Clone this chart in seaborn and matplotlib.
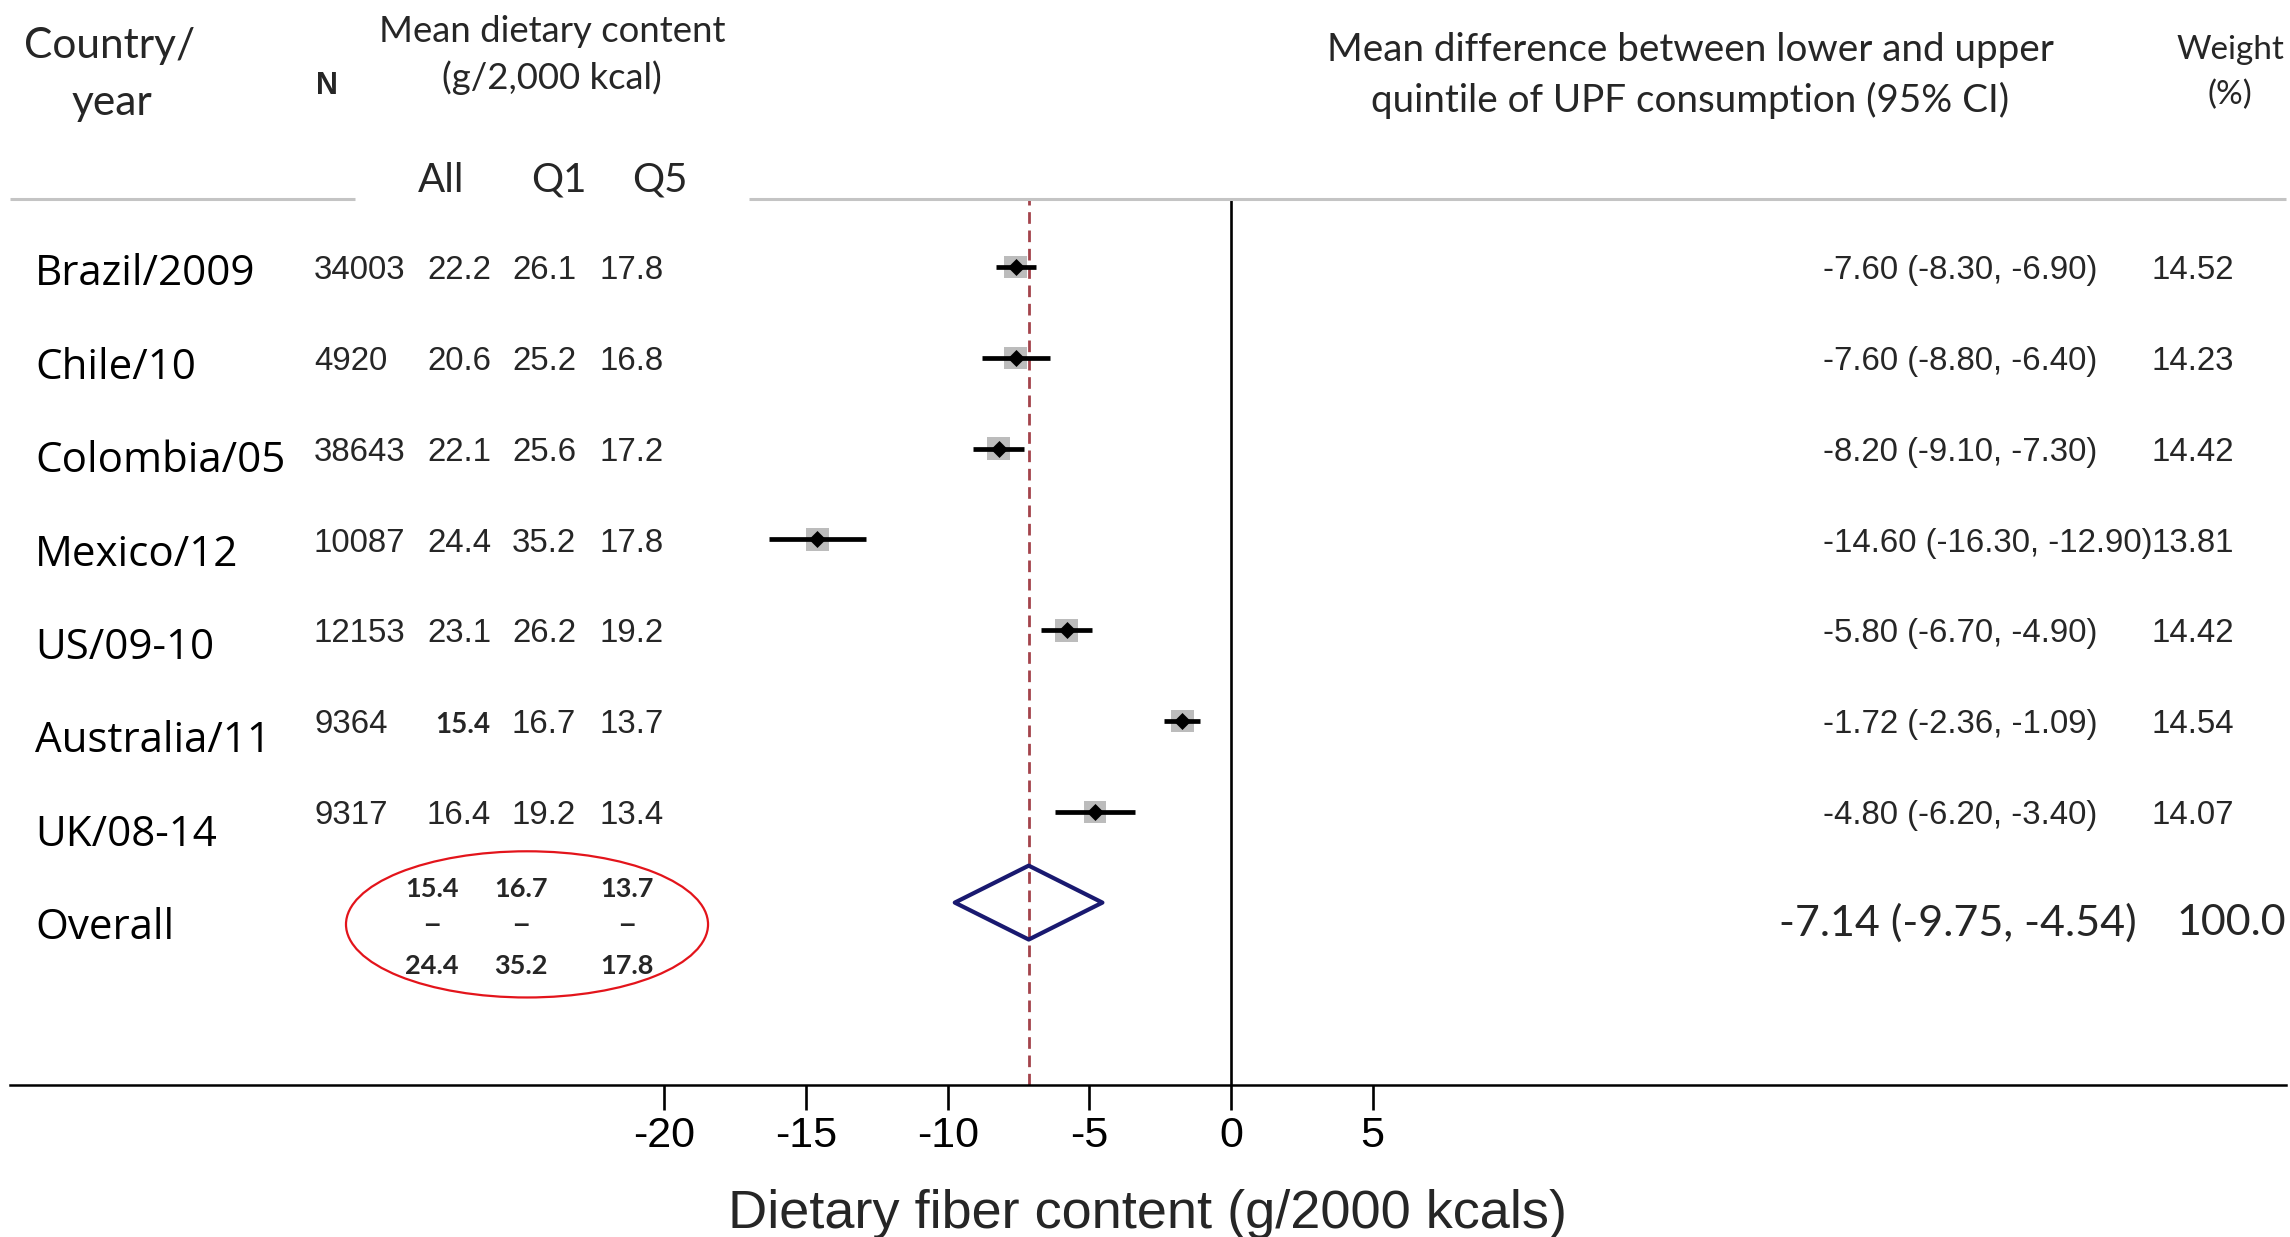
import matplotlib
matplotlib.use("Agg")
import numpy as np
import pandas as pd
import matplotlib.pyplot as plt
from matplotlib import transforms
from matplotlib.patches import Polygon, Ellipse
import seaborn as sns

# ---- study-level data -------------------------------------------------------
countries = ["Brazil/2009", "Chile/10", "Colombia/05", "Mexico/12",
             "US/09-10", "Australia/11", "UK/08-14"]
n_obs = [34003, 4920, 38643, 10087, 12153, 9364, 9317]
mean_all = [22.2, 20.6, 22.1, 24.4, 23.1, 15.4, 16.4]
mean_q1 = [26.1, 25.2, 25.6, 35.2, 26.2, 16.7, 19.2]
mean_q5 = [17.8, 16.8, 17.2, 17.8, 19.2, 13.7, 13.4]
estimate = [-7.60, -7.60, -8.20, -14.60, -5.80, -1.72, -4.80]
ci_low = [-8.30, -8.80, -9.10, -16.30, -6.70, -2.36, -6.20]
ci_high = [-6.90, -6.40, -7.30, -12.90, -4.90, -1.09, -3.40]
weight = [14.52, 14.23, 14.42, 13.81, 14.42, 14.54, 14.07]

# pooled estimate
overall_label = "Overall"
overall_est, overall_low, overall_high = -7.14, -9.75, -4.54
overall_weight = 100.0
range_low = [15.4, 16.7, 13.7]
range_high = [24.4, 35.2, 17.8]

xticks = [-20, -15, -10, -5, 0, 5]
xlabel = "Dietary fiber content (g/2000 kcals)"

df = pd.DataFrame({
    "country": countries, "n": n_obs, "all": mean_all, "q1": mean_q1,
    "q5": mean_q5, "est": estimate, "lo": ci_low, "hi": ci_high, "weight": weight,
})
df["row"] = np.arange(len(df))
overall_row = len(df)

# ---- styling ----------------------------------------------------------------
sns.set_style("white")
plt.rcParams["font.family"] = ["Liberation Sans", "DejaVu Sans"]
HEAD = ["Lato", "DejaVu Sans"]
LABEL = ["Open Sans", "DejaVu Sans"]
ARIAL = ["Liberation Sans", "DejaVu Sans"]

W, H = 2290, 1237
fig = plt.figure(figsize=(W / 100, H / 100), dpi=100)


def fx(p):
    return p / W


def fy(q):
    return 1 - q / H


ax = fig.add_axes([fx(10), fy(1085), fx(2286) - fx(10), fy(199) - fy(1085)])
ax.set_xlim(-43.10, 37.24)
ax.set_ylim(9.009, -0.749)

# study squares (area proportional to weight), CI bars, point markers
sns.scatterplot(data=df, x="est", y="row", size="weight", sizes=(0, 270),
                size_norm=(0, max(weight)), marker="s", color="#bcbcbc",
                linewidth=0, legend=False, ax=ax, zorder=2)
ax.hlines(df["row"], df["lo"], df["hi"], color="black", lw=3.4, zorder=3)
sns.scatterplot(data=df, x="est", y="row", marker="D", s=75, color="black",
                linewidth=0, legend=False, ax=ax, zorder=4)

# pooled diamond
half_h = 0.407
diamond = Polygon([(overall_low, overall_row), (overall_est, overall_row - half_h),
                   (overall_high, overall_row), (overall_est, overall_row + half_h)],
                  closed=True, fill=False, edgecolor="#191970", lw=3.0,
                  joinstyle="round", zorder=4)
ax.add_patch(diamond)

# reference lines
ax.axvline(0, color="black", lw=1.9, zorder=1)
ax.axvline(overall_est, color="#a3434b", lw=2.0, dashes=(4.2, 2.4), zorder=1)

# header rule with a gap under the column headings
ax.plot([0, 0.1515], [1, 1], transform=ax.transAxes, color="#c4c4c4", lw=2.2,
        clip_on=False, solid_capstyle="butt")
ax.plot([0.3248, 1], [1, 1], transform=ax.transAxes, color="#c4c4c4", lw=2.2,
        clip_on=False, solid_capstyle="butt")

# axis styling
for side in ["left", "right", "top"]:
    ax.spines[side].set_visible(False)
ax.spines["bottom"].set_color("black")
ax.spines["bottom"].set_linewidth(1.8)
ax.set_yticks([])
ax.set_ylabel("")
ax.set_xticks(xticks)
ax.set_xticklabels([str(t) for t in xticks], family=ARIAL)
ax.tick_params(axis="x", bottom=True, direction="out", length=18, width=1.9,
               pad=4, labelsize=31, colors="black")
ax.set_xlabel(xlabel, fontsize=39, family=ARIAL, labelpad=24)

# ---- text columns -----------------------------------------------------------
rows_tr = transforms.blended_transform_factory(fig.transFigure, ax.transData)
dy = 0.04  # small downward nudge of the row text

for i, name in enumerate(countries + [overall_label]):
    ax.text(fx(35), 0.08 + 1.029 * i, name, transform=rows_tr, ha="left",
            va="center", fontsize=30.3, family=LABEL, color="black")

for _, r in df.iterrows():
    y = r["row"] + dy
    ax.text(fx(314), y, f"{int(r['n'])}", transform=rows_tr, ha="left",
            va="center", fontsize=23.8, family=ARIAL)
    if r["country"].startswith("Australia"):
        ax.text(fx(463), y, f"{r['all']:.1f}", transform=rows_tr, ha="center",
                va="center", fontsize=20, family=HEAD, fontweight="bold")
    else:
        ax.text(fx(459), y, f"{r['all']:.1f}", transform=rows_tr, ha="center",
                va="center", fontsize=23.8, family=ARIAL)
    ax.text(fx(544), y, f"{r['q1']:.1f}", transform=rows_tr, ha="center",
            va="center", fontsize=23.8, family=ARIAL)
    ax.text(fx(632), y, f"{r['q5']:.1f}", transform=rows_tr, ha="center",
            va="center", fontsize=23.8, family=ARIAL)
    ax.text(fx(1823), y, f"{r['est']:.2f} ({r['lo']:.2f}, {r['hi']:.2f})",
            transform=rows_tr, ha="left", va="center", fontsize=23.8, family=ARIAL)
    ax.text(fx(2151), y, f"{r['weight']:.2f}", transform=rows_tr, ha="left",
            va="center", fontsize=23.8, family=ARIAL)

ax.text(fx(1779), overall_row + 0.22,
        f"{overall_est:.2f} ({overall_low:.2f}, {overall_high:.2f})",
        transform=rows_tr, ha="left", va="center", fontsize=31, family=HEAD)
ax.text(fx(2176), overall_row + 0.22, f"{overall_weight:.1f}", transform=rows_tr,
        ha="left", va="center", fontsize=31, family=HEAD)

# ranges of the means across studies, circled
for xc, lo, hi in zip([432, 521, 627], range_low, range_high):
    ax.text(fx(xc), overall_row - 0.15, f"{lo:.1f}", transform=rows_tr, ha="center",
            va="center", fontsize=19.5, family=HEAD, fontweight="bold")
    ax.text(fx(xc), overall_row + 0.25, "\u2013", transform=rows_tr, ha="center",
            va="center", fontsize=20, family=ARIAL, fontweight="bold")
    ax.text(fx(xc), overall_row + 0.70, f"{hi:.1f}", transform=rows_tr, ha="center",
            va="center", fontsize=19.5, family=HEAD, fontweight="bold")
ax.add_patch(Ellipse((-24.85, 7.24), 12.78, 1.61, fill=False, edgecolor="#e3141b",
                     lw=1.6, clip_on=False, zorder=5))

# ---- column headings ----------------------------------------------------------
def head(x, y, s, size, family=HEAD, **kw):
    fig.text(fx(x), fy(y), s, ha="center", va="center", fontsize=size,
             family=family, **kw)


head(110, 46, "Country/", 30.5)
head(112, 103, "year", 30.5)
head(327, 86, "N", 22, family=ARIAL, fontweight="bold")
head(552, 31, "Mean dietary content", 26.3)
head(552, 78, "(g/2,000 kcal)", 26.3)
head(441, 180, "All", 29)
head(559, 180, "Q1", 29)
head(660, 180, "Q5", 29)
head(1690, 50, "Mean difference between lower and upper", 27.8)
head(1690, 100, "quintile of UPF consumption (95% CI)", 27.8)
head(2230, 50, "Weight", 24)
head(2230, 95, "(%)", 24)

fig.savefig("out.png", dpi=100, facecolor="white")
